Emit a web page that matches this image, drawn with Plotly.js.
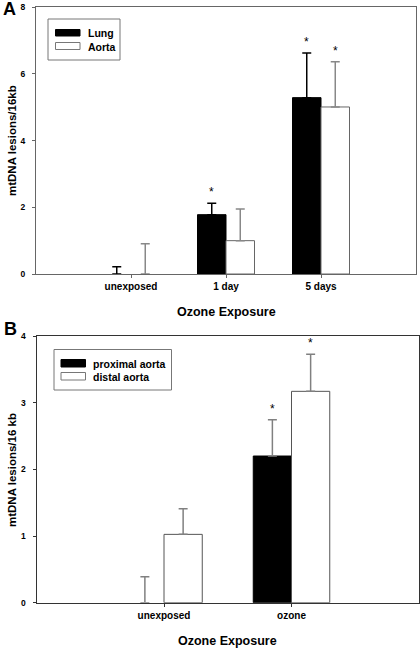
<!DOCTYPE html>
<html>
<head>
<meta charset="utf-8">
<script src="https://cdn.plot.ly/plotly-3.0.1.min.js"></script>
<style>
html,body{margin:0;padding:0;background:#fff;}
#chart{width:420px;height:648px;}
</style>
</head>
<body>
<div id="chart"></div>
<script>
// ---------- Panel A data ----------
const catsA = ["unexposed", "1 day", "5 days"];
const lungMean = [0, 1.78, 5.29];
const lungErr = [0.22, 0.34, 1.34];
const aortaMean = [0, 1.0, 5.01];
const aortaErr = [0.91, 0.95, 1.36];
const lungSig = [false, true, true];
const aortaSig = [false, false, true];
const yTicksA = [0, 2, 4, 6, 8];

// ---------- Panel B data ----------
const catsB = ["unexposed", "ozone"];
const proxMean = [0, 2.2];
const proxErr = [0.39, 0.545];
const distMean = [1.025, 3.17];
const distErr = [0.385, 0.555];
const proxSig = [false, true];
const distSig = [false, true];
const yTicksB = [0, 1, 2, 3, 4];

const seriesNamesA = ["Lung", "Aorta"];
const seriesNamesB = ["proximal aorta", "distal aorta"];

const FONT = "Liberation Sans, Arial, sans-serif";
const W = 420, H = 648;
const px = v => v / W;
const py = v => 1 - v / H;

function barTrace(x, y, err, name, fill, line, errColor, xa, ya) {
  return {
    type: "bar", x: x, y: y, name: name,
    xaxis: xa, yaxis: ya, showlegend: false,
    width: 0.3,
    marker: {color: fill, line: {color: line, width: y.map(v => v === 0 ? 0 : 1)}},
    error_y: {type: "data", symmetric: false, array: err,
              arrayminus: err.map(() => 0), color: errColor,
              thickness: 1.5, width: 4.5}
  };
}

const data = [
  barTrace(catsA, lungMean, lungErr, seriesNamesA[0], "#000000", "#000000", "#000000", "x", "y"),
  barTrace(catsA, aortaMean, aortaErr, seriesNamesA[1], "#ffffff", "#666666", "#888888", "x", "y"),
  barTrace(catsB, proxMean, proxErr, seriesNamesB[0], "#000000", "#000000", "#808080", "x2", "y2"),
  barTrace(catsB, distMean, distErr, seriesNamesB[1], "#ffffff", "#555555", "#808080", "x2", "y2")
];

const annotations = [];
function sigStars(cats, means, errs, sig, offset, xref, yref) {
  cats.forEach((c, i) => {
    if (!sig[i]) return;
    annotations.push({
      x: i + offset, y: means[i] + errs[i], xref: xref, yref: yref,
      text: "*", showarrow: false, yanchor: "bottom", yshift: 2,
      font: {family: FONT, size: 12, color: "#000"}
    });
  });
}
sigStars(catsA, lungMean, lungErr, lungSig, -0.15, "x", "y");
sigStars(catsA, aortaMean, aortaErr, aortaSig, 0.15, "x", "y");
sigStars(catsB, proxMean, proxErr, proxSig, -0.15, "x2", "y2");
sigStars(catsB, distMean, distErr, distSig, 0.15, "x2", "y2");

function txt(text, x, y, size, opts) {
  annotations.push(Object.assign({
    xref: "paper", yref: "paper", x: px(x), y: py(y), text: text,
    showarrow: false, xanchor: "center", yanchor: "middle",
    font: {family: FONT, size: size, color: "#000", weight: "bold"}
  }, opts || {}));
}
// panel letters
txt("<b>A</b>", 9, 8.5, 18);
txt("<b>B</b>", 10, 329, 18);
// axis titles
txt("<b>Ozone Exposure</b>", 226, 312, 12.5);
txt("<b>Ozone Exposure</b>", 227.5, 641, 12.5);
txt("<b>mtDNA lesions/16kb</b>", 12, 141, 11.5, {textangle: -90});
txt("<b>mtDNA lesions/16 kb</b>", 12, 470, 11.5, {textangle: -90});
// legend texts
txt("<b>" + seriesNamesA[0] + "</b>", 86, 33, 10.5, {xanchor: "left"});
txt("<b>" + seriesNamesA[1] + "</b>", 86, 46.5, 10.5, {xanchor: "left"});
txt("<b>" + seriesNamesB[0] + "</b>", 91, 363.5, 10.5, {xanchor: "left"});
txt("<b>" + seriesNamesB[1] + "</b>", 91, 377, 10.5, {xanchor: "left"});

function rect(x0, y0, x1, y1, fill, line) {
  return {type: "rect", xref: "paper", yref: "paper",
          x0: px(x0), x1: px(x1), y0: py(y1), y1: py(y0),
          fillcolor: fill, line: {color: line, width: 1}, layer: "above"};
}
const shapes = [
  rect(48, 19, 120, 60, "rgba(0,0,0,0)", "#777777"),
  rect(55.5, 29.5, 80, 36, "#000000", "#000000"),
  rect(55.5, 42.5, 80, 49.5, "#ffffff", "#777777"),
  rect(54, 349.5, 171.5, 390, "rgba(0,0,0,0)", "#777777"),
  rect(61, 359.5, 85.5, 367, "#000000", "#000000"),
  rect(61, 372.5, 85.5, 380, "#ffffff", "#777777")
];

function xax(domain, range, lc) {
  return {domain: domain, range: range, type: "category",
    showline: true, mirror: true, linecolor: lc, linewidth: 1,
    ticks: "outside", ticklen: 3, tickcolor: lc, tickwidth: 1,
    showgrid: false, zeroline: false, automargin: false, fixedrange: true,
    tickfont: {family: FONT, size: 10, color: "#000", weight: "bold"}};
}
function yax(domain, range, tv, lc, anchor) {
  return {domain: domain, range: range, tickvals: tv, anchor: anchor,
    showline: true, mirror: true, linecolor: lc, linewidth: 1,
    ticks: "outside", ticklen: 3, tickcolor: lc, tickwidth: 1,
    ticklabelstandoff: 5,
    showgrid: false, zeroline: false, automargin: false, fixedrange: true,
    tickfont: {family: FONT, size: 8.5, color: "#000", weight: "bold"}};
}

const layout = {
  width: W, height: H,
  margin: {l: 0, r: 0, t: 0, b: 0},
  paper_bgcolor: "#fff", plot_bgcolor: "#fff",
  barmode: "group", bargap: 0.4, bargroupgap: 0,
  showlegend: false,
  xaxis: xax([px(36), px(416)], [-1, 3], "#666666"),
  yaxis: yax([py(274), py(7.3)], [0, 8], yTicksA, "#666666", "x"),
  xaxis2: Object.assign(xax([px(36.5), px(419)], [-1, 2], "#333333"), {anchor: "y2"}),
  yaxis2: yax([py(602.7), py(336)], [0, 4], yTicksB, "#333333", "x2"),
  annotations: annotations,
  shapes: shapes
};

Plotly.newPlot("chart", data, layout, {displayModeBar: false, staticPlot: true});
</script>
</body>
</html>
